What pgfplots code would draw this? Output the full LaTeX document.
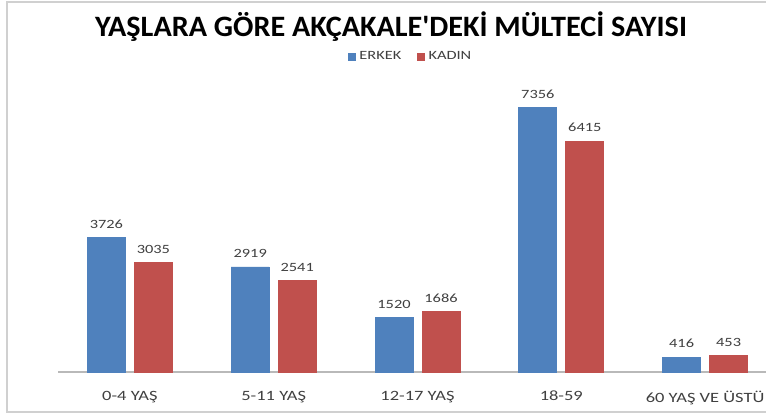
\documentclass[border=0pt]{standalone}
\usepackage{fontspec}
\setmainfont{Carlito}
\newfontfamily\wide{Carlito}[FakeStretch=1.3]
\newfontfamily\titlefont{Carlito}[FakeStretch=1.02]
\usepackage{pgfplots}
\pgfplotsset{compat=1.18}
\definecolor{exblue}{HTML}{4F81BD}
\definecolor{exred}{HTML}{C0504D}
\definecolor{txtgray}{HTML}{404040}
\definecolor{framegray}{HTML}{D0D0D0}
\begin{document}
\begin{tikzpicture}
\useasboundingbox (0,0) rectangle (383pt,208.5pt);
\fill[white] (0,0) rectangle (383pt,208.5pt);
\draw[framegray, line width=1pt] (400pt,207.6pt) -- (3.5pt,207.6pt) -- (3.5pt,2.6pt) -- (400pt,2.6pt);
\node[anchor=base, inner sep=0pt, font=\titlefont\fontsize{14.8}{17}\selectfont\bfseries, text=black] at (195.5pt,190pt) {YAŞLARA GÖRE AKÇAKALE\textquotesingle DEKİ MÜLTECİ SAYISI};
\begin{axis}[
  at={(29pt,22.5pt)}, anchor=south west,
  scale only axis, width=359.5pt, height=144pt,
  xmin=-0.5, xmax=4.5, ymin=0, ymax=8000,
  ybar=4.5pt, bar width=19pt,
  axis x line=bottom, axis y line=none,
  x axis line style={-, draw=gray!55, line width=0.6pt},
  xtick={0,1,2,3,4}, major tick length=0pt,
  xticklabels={0-4 YAŞ, 5-11 YAŞ, 12-17 YAŞ, 18-59, 60 YAŞ VE ÜSTÜ},
  xticklabel style={font=\wide\fontsize{7.1}{8}\selectfont, text=txtgray, yshift=-6pt},
  ytick=\empty,
  clip=false,
  nodes near coords,
  every node near coord/.append style={font=\wide\fontsize{6.3}{7}\selectfont, text=txtgray, yshift=1pt},
  /pgf/number format/assume math mode=true,
  /pgf/number format/set thousands separator={},
  legend columns=2,
  legend style={at={(0.492,1.094)}, anchor=center, draw=none, fill=none,
    font=\wide\fontsize{6.3}{7}\selectfont, text=txtgray,
    /tikz/every even column/.append style={column sep=6pt}},
  legend image code/.code={\fill[#1] (0pt,-1.6pt) rectangle (3.2pt,1.6pt);},
]
\addplot[fill=exblue, draw=exblue] coordinates {(0,3726) (1,2919) (2,1520) (3,7356) (4,416)};
\addplot[fill=exred, draw=exred] coordinates {(0,3035) (1,2541) (2,1686) (3,6415) (4,453)};
\legend{ERKEK, KADIN}
\end{axis}
\end{tikzpicture}
\end{document}
